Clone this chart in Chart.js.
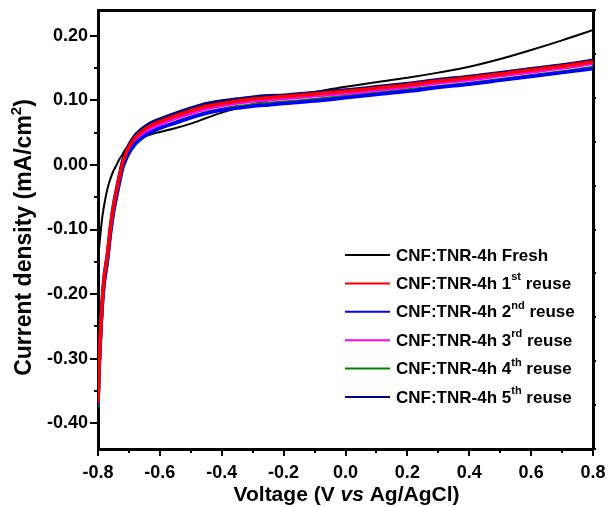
<!DOCTYPE html>
<html>
<head>
<meta charset="utf-8">
<script src="https://cdn.jsdelivr.net/npm/chart.js@4.4.1/dist/chart.umd.min.js"></script>
<style>
  body { margin: 0; background: #fff; }
</style>
</head>
<body>
<canvas id="ivChart" width="609" height="507"></canvas>
<script>
// legend labels, ^{..} marks a superscript
var seriesLabels = [
  'CNF:TNR-4h Fresh',
  'CNF:TNR-4h 1^{st} reuse',
  'CNF:TNR-4h 2^{nd} reuse',
  'CNF:TNR-4h 3^{rd} reuse',
  'CNF:TNR-4h 4^{th} reuse',
  'CNF:TNR-4h 5^{th} reuse'
];
var seriesColors = ['#000000', '#ff0000', '#0000ff', '#ff00ff', '#008000', '#000080'];

// fresh electrode (own voltage points)
var freshV = [-0.8, -0.797, -0.794, -0.79, -0.785, -0.777, -0.77, -0.761, -0.75, -0.74, -0.732, -0.72, -0.713, -0.70, -0.674, -0.65,
  -0.625, -0.60, -0.557, -0.50, -0.448, -0.40, -0.35, -0.30, -0.25, -0.20, -0.10, 0.0, 0.1, 0.2, 0.3, 0.4, 0.5, 0.6, 0.7, 0.8];
var freshJ = [-0.150, -0.132, -0.116, -0.097, -0.077, -0.054, -0.038, -0.023, -0.009, 0.000, 0.008, 0.017, 0.023, 0.030, 0.039, 0.044,
  0.048, 0.051, 0.056, 0.064, 0.073, 0.081, 0.088, 0.094, 0.100, 0.105, 0.113, 0.121, 0.128, 0.135, 0.143, 0.152, 0.164, 0.178, 0.193, 0.209];

// reuse runs share these voltage points
var reuseV = [-0.8, -0.797, -0.794, -0.79, -0.785, -0.78, -0.77, -0.76, -0.75, -0.74, -0.73, -0.72, -0.71, -0.70, -0.68, -0.66,
  -0.64, -0.62, -0.60, -0.55, -0.50, -0.45, -0.40, -0.35, -0.30, -0.25, -0.20, -0.10, 0.0, 0.1, 0.2, 0.3, 0.4, 0.5, 0.6, 0.7, 0.8];
var reuse1J = [-0.369, -0.319, -0.283, -0.243, -0.202, -0.175, -0.142, -0.099, -0.065, -0.040, -0.017, 0.004, 0.017, 0.028, 0.042, 0.051,
  0.058, 0.063, 0.067, 0.076, 0.084, 0.091, 0.095, 0.099, 0.102, 0.104, 0.106, 0.110, 0.114, 0.119, 0.124, 0.130, 0.135, 0.141, 0.147, 0.153, 0.160];
var reuse2J = [-0.372, -0.323, -0.288, -0.249, -0.209, -0.182, -0.149, -0.106, -0.072, -0.047, -0.024, -0.003, 0.009, 0.019, 0.033, 0.041,
  0.048, 0.053, 0.057, 0.065, 0.073, 0.080, 0.085, 0.088, 0.091, 0.093, 0.095, 0.099, 0.104, 0.109, 0.114, 0.120, 0.125, 0.131, 0.137, 0.143, 0.149];
var reuse3J = [-0.370, -0.320, -0.285, -0.245, -0.205, -0.178, -0.145, -0.102, -0.068, -0.043, -0.020, 0.001, 0.014, 0.024, 0.038, 0.047,
  0.054, 0.059, 0.063, 0.072, 0.080, 0.087, 0.092, 0.096, 0.099, 0.101, 0.103, 0.107, 0.111, 0.116, 0.121, 0.127, 0.132, 0.138, 0.144, 0.150, 0.157];
var reuse4J = [-0.375, -0.326, -0.291, -0.251, -0.211, -0.184, -0.151, -0.108, -0.074, -0.049, -0.026, -0.005, 0.008, 0.018, 0.032, 0.041,
  0.048, 0.053, 0.057, 0.066, 0.074, 0.081, 0.086, 0.090, 0.093, 0.095, 0.097, 0.101, 0.106, 0.111, 0.116, 0.121, 0.126, 0.132, 0.138, 0.144, 0.151];
var reuse5J = [-0.368, -0.318, -0.282, -0.241, -0.200, -0.172, -0.139, -0.096, -0.062, -0.037, -0.014, 0.007, 0.020, 0.031, 0.046, 0.055,
  0.062, 0.067, 0.071, 0.080, 0.088, 0.095, 0.099, 0.102, 0.105, 0.107, 0.108, 0.112, 0.116, 0.121, 0.126, 0.132, 0.137, 0.143, 0.149, 0.155, 0.162];

// axis ticks
var xTicks = [-0.8, -0.7, -0.6, -0.5, -0.4, -0.3, -0.2, -0.1, 0.0, 0.1, 0.2, 0.3, 0.4, 0.5, 0.6, 0.7, 0.8];
var xLabelTicks = [-0.8, -0.6, -0.4, -0.2, 0.0, 0.2, 0.4, 0.6, 0.8];
var yTicks = [-0.40, -0.35, -0.30, -0.25, -0.20, -0.15, -0.10, -0.05, 0.00, 0.05, 0.10, 0.15, 0.20];
var yLabelTicks = [-0.40, -0.30, -0.20, -0.10, 0.00, 0.10, 0.20];
var rightTicks = [0, 1, 2, 3, 4, 5, 6, 7, 8, 9, 10];
var yTitleParts = ['Current density (mA/cm', '2', ')'];
var xTitleParts = ['Voltage (V ', 'vs', ' Ag/AgCl)'];

var FONT = '"Liberation Sans", Arial, sans-serif';

function toPoints(xs, ys) {
  return xs.map(function (x, i) { return { x: x, y: ys[i] }; });
}
function isLabelled(list, v) {
  return list.some(function (t) { return Math.abs(t - v) < 1e-6; });
}
function noPadding(s) {
  s.paddingLeft = 0; s.paddingRight = 0; s.paddingTop = 0; s.paddingBottom = 0;
}

var reuseJ = [reuse1J, reuse2J, reuse3J, reuse4J, reuse5J];
var datasets = [{
  label: seriesLabels[0],
  data: toPoints(freshV, freshJ),
  borderColor: seriesColors[0],
  borderWidth: 2,
  order: 1
}];
reuseJ.forEach(function (ys, i) {
  datasets.push({
    label: seriesLabels[i + 1],
    data: toPoints(reuseV, ys),
    borderColor: seriesColors[i + 1],
    borderWidth: 3.5,
    order: 0
  });
});

// tick marks: long at labelled values, short between
var tickMarks = {
  id: 'tickMarks',
  afterDraw: function (chart) {
    var ctx = chart.ctx, a = chart.chartArea;
    var sx = chart.scales.x, sy = chart.scales.y, sr = chart.scales.y2;
    ctx.save();
    ctx.strokeStyle = '#000';
    ctx.lineWidth = 2;
    ctx.beginPath();
    xTicks.forEach(function (v) {
      var p = Math.round(sx.getPixelForValue(v));
      var len = isLabelled(xLabelTicks, v) ? 7 : 4;
      ctx.moveTo(p, a.bottom); ctx.lineTo(p, a.bottom + len);
    });
    yTicks.forEach(function (v) {
      var p = Math.round(sy.getPixelForValue(v));
      var len = isLabelled(yLabelTicks, v) ? 8 : 4;
      ctx.moveTo(a.left - len, p); ctx.lineTo(a.left, p);
    });
    rightTicks.forEach(function (v) {
      var p = Math.round(sr.getPixelForValue(v));
      ctx.moveTo(a.right, p); ctx.lineTo(a.right + 3, p);
    });
    ctx.stroke();
    ctx.restore();
  }
};

// axis titles: italic "vs" and a superscript 2
var axisTitles = {
  id: 'axisTitles',
  afterDraw: function (chart) {
    var ctx = chart.ctx, a = chart.chartArea;
    ctx.save();
    ctx.fillStyle = '#000';
    ctx.textBaseline = 'middle';

    var xf = ['bold 21px ' + FONT, 'italic bold 21px ' + FONT, 'bold 21px ' + FONT];
    var xw = xTitleParts.map(function (t, i) { ctx.font = xf[i]; return ctx.measureText(t).width; });
    var x = (a.left + a.right) / 2 + 1 - xw.reduce(function (s, w) { return s + w; }, 0) / 2;
    xTitleParts.forEach(function (t, i) {
      ctx.font = xf[i];
      ctx.fillText(t, x, a.bottom + 46);
      x += xw[i];
    });

    var yf = ['bold 23px ' + FONT, 'bold 15px ' + FONT, 'bold 23px ' + FONT];
    var yOff = [0, -8, 0];
    var yw = yTitleParts.map(function (t, i) { ctx.font = yf[i]; return ctx.measureText(t).width; });
    ctx.translate(25, (a.top + a.bottom) / 2 + 8);
    ctx.rotate(-Math.PI / 2);
    var p = -yw.reduce(function (s, w) { return s + w; }, 0) / 2;
    yTitleParts.forEach(function (t, i) {
      ctx.font = yf[i];
      ctx.fillText(t, p, yOff[i]);
      p += yw[i];
    });
    ctx.restore();
  }
};

// legend inside the plot, with superscripts
var supLegend = {
  id: 'supLegend',
  afterDraw: function (chart) {
    var ctx = chart.ctx, a = chart.chartArea;
    var x0 = a.right - 248, y0 = a.bottom - 194, rowH = 28.4;
    ctx.save();
    ctx.fillStyle = '#000';
    ctx.textBaseline = 'middle';
    chart.data.datasets.forEach(function (ds, i) {
      var y = y0 + i * rowH;
      ctx.strokeStyle = ds.borderColor;
      ctx.lineWidth = 2;
      ctx.beginPath();
      ctx.moveTo(x0, y); ctx.lineTo(x0 + 45, y);
      ctx.stroke();
      var parts = ds.label.split(/\^\{(.*?)\}/);
      var x = x0 + 51;
      ctx.font = 'bold 17px ' + FONT;
      ctx.fillText(parts[0], x, y + 1);
      x += ctx.measureText(parts[0]).width;
      if (parts.length > 1) {
        ctx.font = 'bold 11px ' + FONT;
        ctx.fillText(parts[1], x, y - 6);
        x += ctx.measureText(parts[1]).width;
        ctx.font = 'bold 17px ' + FONT;
        ctx.fillText(parts[2], x, y + 1);
      }
    });
    ctx.restore();
  }
};

var tickFont = { family: FONT, size: 18, weight: 'bold' };
var frame = { color: '#000', width: 3 };

new Chart(document.getElementById('ivChart'), {
  type: 'line',
  data: { datasets: datasets },
  options: {
    responsive: false,
    animation: false,
    devicePixelRatio: 1,
    layout: { padding: 0 },
    elements: {
      point: { radius: 0 },
      line: { cubicInterpolationMode: 'monotone', fill: false }
    },
    plugins: {
      legend: { display: false },
      tooltip: { enabled: false }
    },
    scales: {
      x: {
        type: 'linear', position: 'bottom', min: -0.8, max: 0.8,
        afterBuildTicks: function (s) { s.ticks = xTicks.map(function (v) { return { value: v }; }); },
        afterFit: function (s) { s.height = 58; noPadding(s); },
        grid: { display: false },
        border: frame,
        ticks: {
          autoSkip: false, maxRotation: 0, padding: 5, color: '#000', font: tickFont,
          callback: function (v) { return isLabelled(xLabelTicks, v) ? v.toFixed(1) : ''; }
        }
      },
      x2: {
        type: 'linear', position: 'top', min: -0.8, max: 0.8,
        afterFit: function (s) { s.height = 10; noPadding(s); },
        grid: { display: false },
        border: frame,
        ticks: { display: false }
      },
      y: {
        type: 'linear', position: 'left', min: -0.44, max: 0.24,
        afterBuildTicks: function (s) { s.ticks = yTicks.map(function (v) { return { value: v }; }); },
        afterFit: function (s) { s.width = 98; noPadding(s); },
        grid: { display: false },
        border: frame,
        ticks: {
          autoSkip: false, padding: 2, color: '#000', font: tickFont,
          callback: function (v) { return isLabelled(yLabelTicks, v) ? v.toFixed(2) : ''; }
        }
      },
      y2: {
        type: 'linear', position: 'right', min: 0, max: 10,
        afterFit: function (s) { s.width = 16; noPadding(s); },
        grid: { display: false },
        border: frame,
        ticks: { display: false }
      }
    }
  },
  plugins: [tickMarks, axisTitles, supLegend]
});
</script>
</body>
</html>
